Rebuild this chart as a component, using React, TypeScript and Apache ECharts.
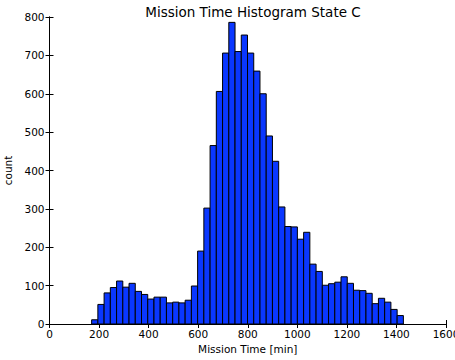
import React, { useEffect, useRef } from "react";
import * as echarts from "echarts";

const binStart = 170;
const binEnd = 1428;
const counts = [
  11, 51, 81, 95, 112, 96, 106, 85, 77, 65,
  70, 70, 55, 57, 55, 62, 99, 190, 302, 465,
  606, 706, 786, 710, 753, 706, 659, 600, 490, 424,
  305, 254, 253, 221, 239, 156, 137, 101, 105, 109,
  123, 106, 88, 87, 80, 53, 67, 57, 38, 22,
];
const xTicks = [0, 200, 400, 600, 800, 1000, 1200, 1400, 1600];
const yTicks = [0, 100, 200, 300, 400, 500, 600, 700, 800];

const FONT = "DejaVu Sans";

export default function App() {
  const ref = useRef<HTMLDivElement>(null);
  useEffect(() => {
    if (!ref.current) return;
    const chart = echarts.init(ref.current, null, { renderer: "svg" });
    const w = (binEnd - binStart) / counts.length;
    const data = counts.map((c, i) => [binStart + i * w, binStart + (i + 1) * w, c]);
    const axisCommon = {
      type: "value" as const,
      splitLine: { show: false },
      axisLine: { show: true, lineStyle: { color: "#000", width: 1 } },
      axisTick: { show: true, inside: true, length: 4, lineStyle: { color: "#000" } },
    };
    const fmt = (v: number) => String(v);
    chart.setOption({
      animation: false,
      title: {
        text: "Mission Time Histogram State C",
        left: 248,
        textAlign: "center",
        top: 0,
        textStyle: { fontFamily: FONT, fontSize: 13.5, fontWeight: "normal", color: "#000" },
      },
      grid: { left: 49.5, right: 9, top: 17, bottom: 36, containLabel: false, outerBoundsMode: "none" },
      xAxis: [
        {
          ...axisCommon,
          min: xTicks[0],
          max: xTicks[xTicks.length - 1],
          interval: 200,
          name: "Mission Time [min]",
          nameLocation: "middle",
          nameGap: 19,
          nameTextStyle: { fontFamily: FONT, fontSize: 10.5, color: "#000" },
          axisLabel: { fontFamily: FONT, fontSize: 10.5, color: "#000", margin: 4, formatter: fmt },
        },
        {
          ...axisCommon,
          position: "top",
          min: xTicks[0],
          max: xTicks[xTicks.length - 1],
          interval: 200,
          axisLabel: { show: false },
        },
      ],
      yAxis: [
        {
          ...axisCommon,
          min: yTicks[0],
          max: yTicks[yTicks.length - 1],
          interval: 100,
          name: "count",
          nameLocation: "middle",
          nameGap: 30,
          nameTextStyle: { fontFamily: FONT, fontSize: 10.5, color: "#000" },
          axisLabel: { fontFamily: FONT, fontSize: 10.5, color: "#000", margin: 5, formatter: fmt },
        },
        {
          ...axisCommon,
          position: "right",
          min: yTicks[0],
          max: yTicks[yTicks.length - 1],
          interval: 100,
          axisLabel: { show: false },
        },
      ],
      series: [
        {
          type: "custom",
          xAxisIndex: 0,
          yAxisIndex: 0,
          encode: { x: [0, 1], y: 2 },
          data,
          renderItem: (params: any, api: any) => {
            const p0 = api.coord([api.value(0), api.value(2)]);
            const p1 = api.coord([api.value(1), 0]);
            return {
              type: "rect",
              shape: { x: p0[0], y: p0[1], width: p1[0] - p0[0], height: p1[1] - p0[1] },
              style: { fill: "#0a37ff", stroke: "#000", lineWidth: 1 },
            };
          },
        },
      ],
    });
    return () => chart.dispose();
  }, []);
  return <div ref={ref} style={{ width: 455, height: 360, position: "absolute", left: 0, top: 0 }} />;
}
